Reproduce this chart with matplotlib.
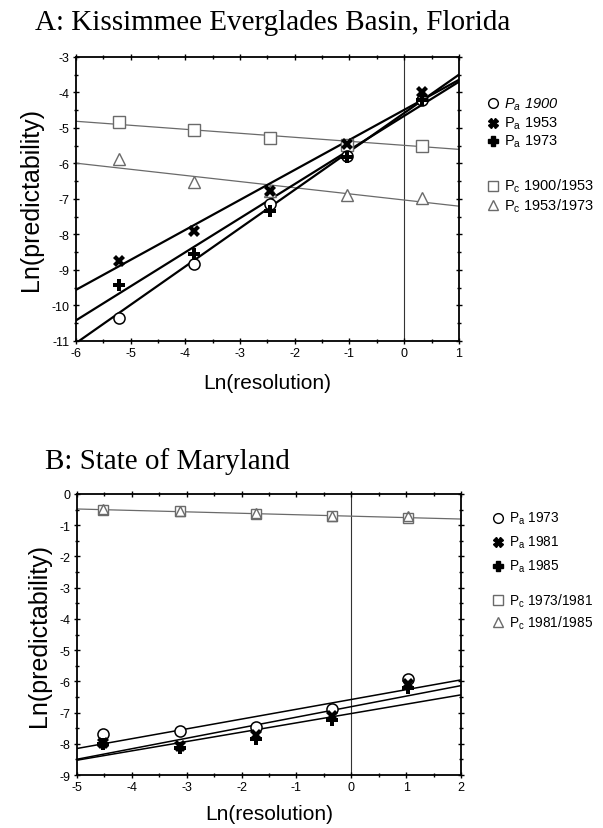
import numpy as np
import matplotlib
matplotlib.use("Agg")
import matplotlib.pyplot as plt
from matplotlib.lines import Line2D

plt.rcParams['font.family'] = ['Liberation Sans', 'DejaVu Sans']
plt.rcParams['mathtext.fontset'] = 'custom'
plt.rcParams['mathtext.rm'] = 'Liberation Sans'
plt.rcParams['mathtext.it'] = 'Liberation Sans:italic'

# ---------------- Panel A: Kissimmee Everglades Basin ----------------
a_x = [-5.22, -3.84, -2.45, -1.05, 0.33]
a_pa1900 = [-10.34, -8.83, -7.14, -5.78, -4.20]
a_pa1953 = [-8.74, -7.90, -6.78, -5.46, -4.00]
a_pa1973 = [-9.42, -8.55, -7.34, -5.82, -4.20]
a_pc1900_1953 = [-4.84, -5.06, -5.29, -5.48, -5.50]
a_pc1953_1973 = [-5.88, -6.52, -6.78, -6.89, -6.97]
# fitted lines: (slope, intercept)
a_fit_pa1900 = (1.08, -4.58)
a_fit_pa1953 = (0.845, -4.49)
a_fit_pa1973 = (0.96, -4.66)
a_fit_pc1900_1953 = (-0.113, -5.49)
a_fit_pc1953_1973 = (-0.173, -7.03)
a_xticks = [-6, -5, -4, -3, -2, -1, 0, 1]
a_yticks = [-3, -4, -5, -6, -7, -8, -9, -10, -11]

# ---------------- Panel B: State of Maryland ----------------
b_x = [-4.53, -3.12, -1.73, -0.35, 1.03]
b_pa1973 = [-7.69, -7.59, -7.45, -6.89, -5.91]
b_pa1981 = [-7.98, -8.08, -7.72, -7.12, -6.10]
b_pa1985 = [-8.02, -8.15, -7.85, -7.25, -6.22]
b_pc1973_1981 = [-0.50, -0.56, -0.64, -0.72, -0.77]
b_pc1981_1985 = [-0.49, -0.55, -0.60, -0.71, -0.72]
b_fit_pa1973 = (0.314, -6.58)
b_fit_pa1981 = (0.337, -6.81)
b_fit_pa1985 = (0.299, -7.03)
b_fit_pc = (-0.046, -0.71)
b_xticks = [-5, -4, -3, -2, -1, 0, 1, 2]
b_yticks = [0, -1, -2, -3, -4, -5, -6, -7, -8, -9]

GRAY = '#6a6a6a'


def style_axes(ax, xlim, ylim, xticks, yticks):
    ax.set_xlim(*xlim)
    ax.set_ylim(*ylim)
    ax.set_xticks(xticks)
    ax.set_yticks(yticks)
    ax.set_xticks(np.arange(xlim[0], xlim[1] + 0.01, 0.5), minor=True)
    ax.set_yticks(np.arange(ylim[0], ylim[1] + 0.01, 0.5), minor=True)
    ax.set_xticklabels([str(t) for t in xticks])
    ax.set_yticklabels([str(t) for t in yticks])
    ax.tick_params(which='both', direction='inout', top=True, right=True,
                   labelsize=9, width=1.0, pad=2)
    ax.tick_params(which='major', length=5)
    ax.tick_params(which='minor', length=3)
    for s in ax.spines.values():
        s.set_linewidth(1.3)
    ax.axvline(0, color='#333333', lw=0.8, zorder=1)


def draw_fit(ax, fit, xlim, **kw):
    xs = np.array(xlim, dtype=float)
    ax.plot(xs, fit[0] * xs + fit[1], **kw)


def legend_block(fig, x, y0, entries, size):
    # entries: (marker, face, edge, label, italic, dy)
    y = y0
    for marker, face, edge, label, italic, dy in entries:
        y -= dy
        fig.add_artist(Line2D([x], [y], marker=marker, markersize=7,
                              markerfacecolor=face, markeredgecolor=edge,
                              markeredgewidth=1.0, linestyle='none',
                              transform=fig.transFigure))
        fig.text(x + 0.018, y, label, fontsize=size, va='center', ha='left',
                 style='italic' if italic else 'normal')


fig = plt.figure(figsize=(6.03, 8.29), dpi=100)

# ---- Panel A ----
axA = fig.add_axes([0.126, 0.5875, 0.635, 0.3426])
xlimA = (-6, 1)
style_axes(axA, xlimA, (-11, -3), a_xticks, a_yticks)
thin = dict(color=GRAY, lw=0.9, zorder=2)
thick = dict(color='black', lw=1.6, zorder=3)
draw_fit(axA, a_fit_pc1900_1953, xlimA, **thin)
draw_fit(axA, a_fit_pc1953_1973, xlimA, **thin)
draw_fit(axA, a_fit_pa1900, xlimA, **thick)
draw_fit(axA, a_fit_pa1953, xlimA, **thick)
draw_fit(axA, a_fit_pa1973, xlimA, **thick)
axA.plot(a_x, a_pc1900_1953, 's', ms=8, mfc='white', mec=GRAY, mew=1.0, zorder=4)
axA.plot(a_x, a_pc1953_1973, '^', ms=8, mfc='white', mec=GRAY, mew=1.0, zorder=4)
axA.plot(a_x, a_pa1900, 'o', ms=8, mfc='white', mec='black', mew=1.1, zorder=5)
axA.plot(a_x, a_pa1973, 'P', ms=8, color='black', mew=0, zorder=5)
axA.plot(a_x, a_pa1953, 'X', ms=9, color='black', mew=0, zorder=6)
axA.set_xlabel('Ln(resolution)', fontsize=15, labelpad=10)
axA.set_ylabel('Ln(predictability)', fontsize=18, labelpad=6)
fig.text(0.058, 0.972, 'A: Kissimmee Everglades Basin, Florida',
         family='Liberation Serif', fontsize=21, ha='left', va='center')

legend_block(fig, 0.817, 0.874, [
    ('o', 'white', 'black', r'$\mathregular{P_a}$ 1900', True, 0.0),
    ('X', 'black', 'black', r'$\mathregular{P_a}$ 1953', False, 0.023),
    ('P', 'black', 'black', r'$\mathregular{P_a}$ 1973', False, 0.022),
    ('s', 'white', GRAY, r'$\mathregular{P_c}$ 1900/1953', False, 0.054),
    ('^', 'white', GRAY, r'$\mathregular{P_c}$ 1953/1973', False, 0.024),
], 10.5)

# ---- Panel B ----
axB = fig.add_axes([0.1277, 0.0639, 0.637, 0.339])
xlimB = (-5, 2)
style_axes(axB, xlimB, (-9, 0), b_xticks, b_yticks)
draw_fit(axB, b_fit_pc, xlimB, **thin)
draw_fit(axB, b_fit_pa1973, xlimB, color='black', lw=1.1, zorder=3)
draw_fit(axB, b_fit_pa1981, xlimB, color='black', lw=1.1, zorder=3)
draw_fit(axB, b_fit_pa1985, xlimB, color='black', lw=1.1, zorder=3)
axB.plot(b_x, b_pc1973_1981, 's', ms=7, mfc='white', mec=GRAY, mew=1.0, zorder=4)
axB.plot(b_x, b_pc1981_1985, '^', ms=7, mfc='none', mec=GRAY, mew=1.0, zorder=4)
axB.plot(b_x, b_pa1973, 'o', ms=8, mfc='white', mec='black', mew=1.1, zorder=5)
axB.plot(b_x, b_pa1985, 'P', ms=8, color='black', mew=0, zorder=5)
axB.plot(b_x, b_pa1981, 'X', ms=9, color='black', mew=0, zorder=6)
axB.set_xlabel('Ln(resolution)', fontsize=15, labelpad=8)
axB.set_ylabel('Ln(predictability)', fontsize=18, labelpad=6)
fig.text(0.074, 0.443, 'B: State of Maryland',
         family='Liberation Serif', fontsize=21, ha='left', va='center')

legend_block(fig, 0.826, 0.374, [
    ('o', 'white', 'black', r'$\mathregular{P_a}$ 1973', False, 0.0),
    ('X', 'black', 'black', r'$\mathregular{P_a}$ 1981', False, 0.029),
    ('P', 'black', 'black', r'$\mathregular{P_a}$ 1985', False, 0.029),
    ('s', 'white', GRAY, r'$\mathregular{P_c}$ 1973/1981', False, 0.041),
    ('^', 'white', GRAY, r'$\mathregular{P_c}$ 1981/1985', False, 0.027),
], 9.8)

fig.savefig('out.png', dpi=100)
